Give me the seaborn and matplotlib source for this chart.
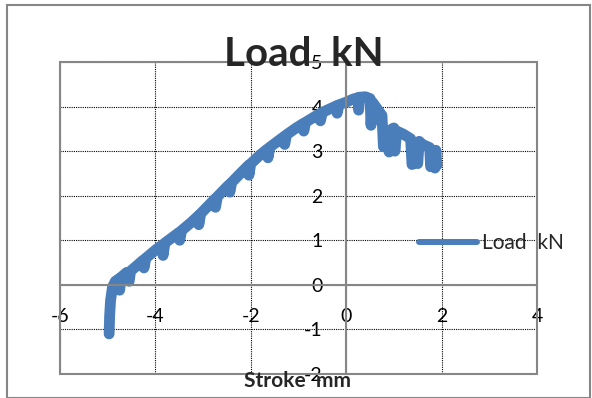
import matplotlib
matplotlib.use("Agg")
import matplotlib.pyplot as plt
import seaborn as sns
import pandas as pd
from matplotlib.patches import Rectangle

stroke_mm = [-4.97, -4.96, -4.94, -4.90, -4.84, -4.76, -4.75, -4.72, -4.60, -4.55,
             -4.52, -4.40, -4.25, -4.24, -4.20, -4.00, -3.85, -3.84, -3.80, -3.60,
             -3.50, -3.49, -3.45, -3.25, -3.10, -3.09, -3.05, -2.85, -2.75, -2.74,
             -2.70, -2.50, -2.45, -2.44, -2.40, -2.20, -2.05, -2.04, -2.00, -1.80,
             -1.65, -1.64, -1.60, -1.40, -1.30, -1.29, -1.25, -1.05, -0.90, -0.89,
             -0.85, -0.65, -0.55, -0.54, -0.50, -0.30, -0.20, -0.19, -0.15, 0.00,
             0.15, 0.25, 0.26, 0.28, 0.40, 0.50, 0.52, 0.55, 0.65, 0.75,
             0.78, 0.84, 0.90, 0.96, 1.00, 1.02, 1.06, 1.20, 1.35, 1.38,
             1.44, 1.50, 1.53, 1.60, 1.75, 1.77, 1.82, 1.86, 1.88, 1.90]
load_kn = [-1.10, -0.70, -0.35, -0.05, 0.08, 0.14, -0.12, 0.17, 0.28, 0.08,
           0.31, 0.42, 0.56, 0.38, 0.60, 0.78, 0.90, 0.66, 0.94, 1.10,
           1.18, 1.00, 1.22, 1.40, 1.55, 1.35, 1.60, 1.82, 1.93, 1.74,
           1.98, 2.20, 2.25, 2.08, 2.30, 2.52, 2.68, 2.46, 2.72, 2.92,
           3.05, 2.85, 3.09, 3.25, 3.33, 3.15, 3.37, 3.52, 3.62, 3.45,
           3.65, 3.78, 3.84, 3.68, 3.87, 3.97, 4.02, 3.85, 4.04, 4.10,
           4.17, 4.20, 3.92, 4.21, 4.22, 4.18, 3.58, 4.10, 3.95, 3.80,
           3.10, 3.20, 2.98, 3.50, 3.52, 3.00, 3.45, 3.38, 3.28, 2.70,
           2.95, 2.72, 3.22, 3.15, 3.08, 2.65, 2.85, 2.62, 3.02, 2.68]

x_ticks = [-6, -4, -2, 0, 2, 4]
y_ticks = [-2, -1, 0, 1, 2, 3, 4, 5]
series_name = "Load  kN"
title_text = "Load  kN"
xlabel_text = "Stroke  mm"

sns.set_style("white")
plt.rcParams['font.family'] = ['Lato', 'DejaVu Sans']

W, H = 592, 398
fig = plt.figure(figsize=(W / 100, H / 100), dpi=100)
ax = fig.add_axes([60 / W, 1 - 374 / H, (537 - 60) / W, (374 - 62) / H])

df = pd.DataFrame({"Stroke": stroke_mm, "Load": load_kn})
line_color = "#4A7EBB"
sns.lineplot(data=df, x="Stroke", y="Load", sort=False, estimator=None,
             color=line_color, linewidth=7.8, ax=ax, label=series_name,
             solid_capstyle="round", solid_joinstyle="round")

ax.set_xlim(-6, 4)
ax.set_ylim(-2, 5)
ax.set_xticks(x_ticks)
ax.set_yticks(y_ticks)
ax.set_xticklabels([str(v) for v in x_ticks])
ax.set_yticklabels([str(v) for v in y_ticks])

ax.grid(True, color="black", linestyle=(0, (1, 1)), linewidth=0.8)
ax.set_axisbelow(True)

gray = "#868686"
for s in ["top", "right"]:
    ax.spines[s].set_visible(False)
ax.spines["left"].set_position(("data", 0))
ax.spines["bottom"].set_position(("data", 0))
ax.spines["left"].set_color(gray)
ax.spines["bottom"].set_color(gray)
ax.spines["left"].set_linewidth(1.5)
ax.spines["bottom"].set_linewidth(1.5)
ax.add_patch(Rectangle((0, 0), 1, 1, transform=ax.transAxes, fill=False,
                       edgecolor=gray, linewidth=1.5, zorder=3, clip_on=False))

ax.tick_params(axis="both", direction="out", length=6, width=1.2, color=gray,
               labelsize=14, labelcolor="black", pad=11)

ax.set_xlabel("")
ax.set_ylabel("")

fig.text(297 / W, 1 - 381 / H, xlabel_text, ha="center", va="center",
         fontsize=15, fontweight="bold")
fig.text(304 / W, 1 - 54 / H, title_text, ha="center", va="center",
         fontsize=29, fontweight="bold", zorder=5)

leg = ax.legend(loc="center left", bbox_to_anchor=(419 / W, 1 - 243 / H),
                bbox_transform=fig.transFigure, frameon=False, fontsize=15,
                handlelength=2.8, handletextpad=0.2, borderpad=0, borderaxespad=0)
for lh in leg.get_lines():
    lh.set_linewidth(4.3)

fig.patches.append(Rectangle((7 / W, 0.5 / H), (590 - 7) / W, (397 - 4) / H,
                             transform=fig.transFigure, fill=False,
                             edgecolor=gray, linewidth=1.5))

fig.savefig("out.png", dpi=100)
